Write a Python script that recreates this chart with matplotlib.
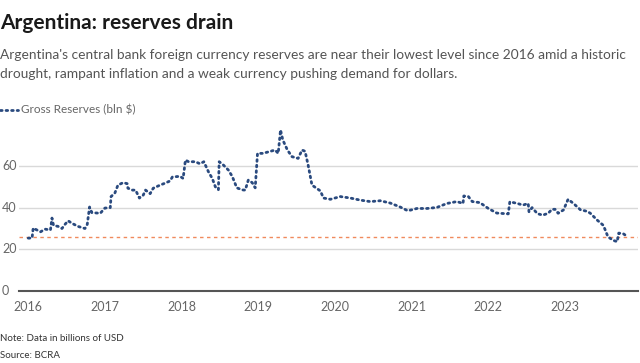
import numpy as np
import matplotlib.pyplot as plt

# decimal years (2016 = start of Jan 2016) and gross reserves, bln USD
years = [0.00, 0.05, 0.065, 0.16, 0.22, 0.29, 0.31, 0.33, 0.39, 0.44, 0.48, 0.52,
         0.57, 0.65, 0.74, 0.77, 0.80, 0.83, 0.94, 1.00, 1.07, 1.08, 1.13, 1.17,
         1.24, 1.29, 1.30, 1.36, 1.40, 1.45, 1.50, 1.53, 1.59, 1.63, 1.72, 1.79,
         1.85, 1.88, 1.98, 2.02, 2.05, 2.09, 2.18, 2.24, 2.29, 2.35, 2.40, 2.44,
         2.48, 2.49, 2.54, 2.61, 2.66, 2.72, 2.79, 2.83, 2.87, 2.92, 2.96, 2.99,
         3.06, 3.16, 3.22, 3.26, 3.29, 3.32, 3.38, 3.44, 3.52, 3.57, 3.61, 3.65,
         3.70, 3.81, 3.85, 3.94, 4.07, 4.20, 4.33, 4.46, 4.59, 4.72, 4.85, 4.95,
         5.07, 5.20, 5.33, 5.46, 5.59, 5.67, 5.68, 5.74, 5.79, 5.89, 6.00, 6.11,
         6.26, 6.28, 6.38, 6.45, 6.52, 6.53, 6.57, 6.64, 6.71, 6.78, 6.83, 6.87,
         6.91, 6.98, 7.04, 7.11, 7.20, 7.29, 7.33, 7.42, 7.50, 7.56, 7.63, 7.68,
         7.70, 7.76, 7.82]
reserves = [25.4, 25.4, 30.2, 28.4, 29.7, 29.3, 35.0, 31.5, 31.0, 30.0, 32.0, 33.7,
            32.5, 31.0, 30.0, 32.0, 40.3, 37.6, 37.3, 39.8, 40.0, 45.3, 47.0, 50.8,
            52.0, 51.5, 49.3, 48.4, 48.4, 44.6, 46.0, 48.4, 46.7, 49.3, 50.8, 51.8,
            52.8, 54.7, 55.0, 54.0, 62.8, 62.0, 62.0, 61.0, 62.0, 57.2, 54.0, 50.0,
            48.6, 62.0, 60.6, 58.0, 55.0, 49.5, 48.5, 48.4, 53.2, 52.0, 49.5, 66.0,
            66.0, 67.0, 67.6, 66.0, 77.2, 72.4, 67.6, 64.4, 63.6, 67.6, 67.0, 60.4,
            50.8, 48.0, 44.6, 44.0, 45.3, 44.6, 43.6, 42.9, 43.3, 42.2, 40.3, 38.5,
            39.6, 39.6, 40.1, 42.0, 42.9, 42.0, 45.6, 45.3, 42.9, 42.4, 39.6, 37.4,
            37.0, 42.8, 42.0, 41.2, 42.0, 38.0, 40.0, 37.1, 36.4, 37.3, 39.2, 39.2,
            37.3, 38.9, 44.0, 42.0, 39.0, 38.2, 37.3, 34.0, 31.5, 26.0, 24.3, 23.7,
            27.8, 27.5, 25.9]
latest = 26.0
yticks = [0, 20, 40, 60]
xyears = list(range(2016, 2024))

x = 2016 + np.array(years)

fig = plt.figure(figsize=(6.4, 3.63), dpi=100)
plt.rcParams['font.family'] = ['Lato', 'DejaVu Sans']
ax = fig.add_axes([0.0297, 0.198, 0.967, 0.46])

for v in yticks[1:]:
    ax.axhline(v, color='#d9d9d9', lw=1, zorder=0)
ax.axhline(latest, color='#f08a5d', lw=1, ls=(0, (2.5, 2.5)), zorder=1)
ax.plot(x, reserves, color='#2a4a7f', lw=2, ls=(0, (0.6, 1.4)),
        dash_capstyle='round', zorder=3)

ax.set_xlim(2015.88, 2023.95)
ax.set_ylim(0, 80)
for s in ['top', 'right', 'left']:
    ax.spines[s].set_visible(False)
ax.spines['bottom'].set_color('#555555')
ax.spines['bottom'].set_linewidth(1.5)
ax.set_xticks(xyears)
ax.set_xticklabels([str(y) for y in xyears], color='#666666', fontsize=9)
ax.tick_params(axis='x', length=0, pad=7)
ax.set_yticks([])
for v in yticks:
    fig.text(0.003, 0.198 + 0.46 * v / 80, str(v), color='#666666',
             fontsize=9, va='center', ha='left')

fig.text(0.0, 0.92, 'Argentina: reserves drain', fontsize=15, fontweight='bold',
         color='#1a1a1a', ha='left')
fig.text(0.0, 0.837, "Argentina's central bank foreign currency reserves are near their lowest level since 2016 amid a historic",
         fontsize=9.9, color='#555555', ha='left')
fig.text(0.0, 0.785, 'drought, rampant inflation and a weak currency pushing demand for dollars.',
         fontsize=9.9, color='#555555', ha='left')

fig.add_artist(plt.Line2D([0.0, 0.028], [0.697, 0.697], color='#2a4a7f', lw=2,
                          ls=(0, (0.6, 1.4)), dash_capstyle='round'))
fig.text(0.033, 0.697, 'Gross Reserves (bln $)', fontsize=8.5, color='#666666',
         va='center', ha='left')

fig.text(0.0, 0.06, 'Note: Data in billions of USD', fontsize=7, color='#333333')
fig.text(0.0, 0.015, 'Source: BCRA', fontsize=7, color='#333333')

fig.savefig('out.png', dpi=100)
